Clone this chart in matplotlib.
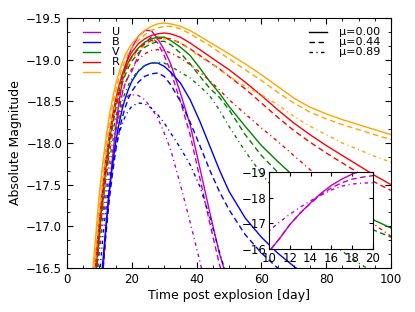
import matplotlib
matplotlib.use("Agg")
import matplotlib.pyplot as plt
from matplotlib.ticker import MultipleLocator, AutoMinorLocator
from matplotlib.lines import Line2D

# ── data ─────────────────────────────────────────────────────────────────────
t = [8, 9, 10, 11, 12, 13, 14, 15, 16, 17, 18, 19, 20, 22, 24, 26, 28, 30, 32,
     35, 38, 41, 44, 47, 50, 55, 60, 65, 70, 75, 80, 85, 90, 95, 100]

U_0 = [-14.9, -15.4, -15.9, -16.4, -16.95, -17.4, -17.8, -18.17, -18.48, -18.72,
       -18.92, -19.05, -19.14, -19.28, -19.35, -19.35, -19.25, -19.12, -18.95,
       -18.6, -18.22, -17.7, -17.18, -16.68, -16.3, -15.7, -15.2, -14.8, -14.5,
       -14.3, -14.1, -14.0, -13.9, -13.8, -13.7]
U_1 = [-14.9, -15.4, -15.9, -16.4, -16.95, -17.4, -17.78, -18.12, -18.38, -18.58,
       -18.72, -18.8, -18.86, -19.05, -19.2, -19.27, -19.2, -19.05, -18.86,
       -18.5, -18.1, -17.58, -17.05, -16.55, -16.15, -15.6, -15.1, -14.7, -14.4,
       -14.2, -14.0, -13.9, -13.8, -13.7, -13.6]
U_2 = [-15.9, -16.3, -16.7, -17.05, -17.35, -17.63, -17.88, -18.1, -18.3, -18.45,
       -18.53, -18.57, -18.58, -18.57, -18.52, -18.42, -18.3, -18.12, -17.92,
       -17.5, -17.05, -16.58, -16.1, -15.7, -15.4, -15.0, -14.7, -14.4, -14.2,
       -14.0, -13.9, -13.8, -13.7, -13.6, -13.5]

B_0 = [-15.2, -15.7, -16.15, -16.55, -17.0, -17.4, -17.72, -18.0, -18.22, -18.4,
       -18.54, -18.65, -18.74, -18.86, -18.93, -18.96, -18.96, -18.92, -18.85,
       -18.72, -18.52, -18.26, -17.97, -17.68, -17.42, -17.1, -16.87, -16.68,
       -16.52, -16.38, -16.25, -16.15, -16.05, -15.95, -15.85]
B_1 = [-15.1, -15.6, -16.05, -16.45, -16.9, -17.3, -17.62, -17.9, -18.12, -18.3,
       -18.43, -18.54, -18.62, -18.73, -18.8, -18.83, -18.84, -18.8, -18.7,
       -18.5, -18.25, -17.97, -17.68, -17.42, -17.2, -16.9, -16.68, -16.5,
       -16.35, -16.22, -16.1, -16.0, -15.9, -15.8, -15.7]
B_2 = [-15.4, -15.9, -16.4, -16.85, -17.2, -17.5, -17.75, -17.95, -18.1, -18.23,
       -18.32, -18.39, -18.44, -18.48, -18.47, -18.42, -18.34, -18.24, -18.12,
       -17.94, -17.74, -17.48, -17.12, -16.7, -16.3, -15.8, -15.4, -15.1, -14.9,
       -14.7, -14.6, -14.5, -14.4, -14.3, -14.2]

V_0 = [-16.1, -16.5, -16.95, -17.35, -17.7, -18.0, -18.25, -18.46, -18.63, -18.77,
       -18.88, -18.97, -19.04, -19.14, -19.21, -19.25, -19.27, -19.27, -19.23,
       -19.15, -19.05, -18.9, -18.74, -18.6, -18.44, -18.2, -17.97, -17.78,
       -17.6, -17.46, -17.35, -17.25, -17.17, -17.07, -16.98]
V_1 = [-16.0, -16.42, -16.88, -17.28, -17.63, -17.93, -18.18, -18.4, -18.57,
       -18.71, -18.82, -18.91, -18.98, -19.08, -19.15, -19.19, -19.22, -19.22,
       -19.18, -19.08, -18.95, -18.8, -18.66, -18.55, -18.4, -18.1, -17.85,
       -17.65, -17.47, -17.33, -17.22, -17.12, -17.03, -16.95, -16.87]
V_2 = [-15.9, -16.3, -16.75, -17.15, -17.48, -17.77, -18.0, -18.2, -18.37, -18.5,
       -18.61, -18.7, -18.77, -18.87, -18.93, -18.96, -18.97, -18.96, -18.92,
       -18.85, -18.78, -18.68, -18.57, -18.4, -18.2, -17.9, -17.63, -17.4,
       -17.18, -17.0, -16.84, -16.7, -16.56, -16.44, -16.33]

R_0 = [-16.2, -16.65, -17.08, -17.46, -17.8, -18.08, -18.32, -18.52, -18.68,
       -18.82, -18.93, -19.02, -19.09, -19.19, -19.25, -19.29, -19.31, -19.32,
       -19.31, -19.27, -19.2, -19.12, -19.04, -18.96, -18.88, -18.73, -18.57,
       -18.4, -18.24, -18.1, -17.97, -17.85, -17.73, -17.61, -17.5]
R_1 = [-16.1, -16.55, -16.98, -17.37, -17.72, -18.0, -18.25, -18.45, -18.61,
       -18.75, -18.87, -18.96, -19.03, -19.13, -19.19, -19.23, -19.25, -19.26,
       -19.25, -19.2, -19.13, -19.05, -18.97, -18.89, -18.8, -18.65, -18.48,
       -18.31, -18.15, -18.01, -17.88, -17.76, -17.64, -17.53, -17.43]
R_2 = [-16.0, -16.45, -16.88, -17.25, -17.58, -17.86, -18.1, -18.3, -18.47, -18.6,
       -18.72, -18.81, -18.89, -19.0, -19.07, -19.11, -19.12, -19.11, -19.08,
       -19.02, -18.94, -18.85, -18.75, -18.64, -18.52, -18.35, -18.18, -18.02,
       -17.85, -17.68, -17.5, -17.33, -17.17, -17.02, -16.88]

I_0 = [-16.5, -16.95, -17.4, -17.75, -18.05, -18.32, -18.52, -18.7, -18.84,
       -18.96, -19.06, -19.13, -19.19, -19.28, -19.35, -19.4, -19.43, -19.44,
       -19.43, -19.4, -19.35, -19.28, -19.21, -19.14, -19.07, -18.95, -18.82,
       -18.68, -18.54, -18.43, -18.35, -18.28, -18.22, -18.16, -18.1]
I_1 = [-16.35, -16.82, -17.28, -17.65, -17.96, -18.23, -18.44, -18.62, -18.77,
       -18.9, -19.0, -19.08, -19.14, -19.23, -19.3, -19.35, -19.38, -19.4, -19.4,
       -19.37, -19.31, -19.24, -19.17, -19.09, -19.01, -18.88, -18.75, -18.61,
       -18.48, -18.37, -18.29, -18.22, -18.16, -18.1, -18.04]
I_2 = [-16.2, -16.68, -17.13, -17.5, -17.82, -18.08, -18.3, -18.48, -18.63,
       -18.76, -18.86, -18.94, -19.01, -19.1, -19.17, -19.21, -19.24, -19.25,
       -19.24, -19.2, -19.12, -19.03, -18.97, -18.89, -18.8, -18.68, -18.58,
       -18.46, -18.32, -18.2, -18.1, -18.0, -17.92, -17.84, -17.77]

bands = ["U", "B", "V", "R", "I"]
mu_labels = ["μ=0.00", "μ=0.44", "μ=0.89"]

# ── style ────────────────────────────────────────────────────────────────────
colors = {"U": "#bf00bf", "B": "#0000ff", "V": "#008000",
          "R": "#ff0000", "I": "#ffa500"}
styles = [dict(ls="-"), dict(ls=(0, (4, 2.5))), dict(ls=(0, (2.5, 2.5, 0.8, 2.5)))]
curves = {"U": [U_0, U_1, U_2], "B": [B_0, B_1, B_2], "V": [V_0, V_1, V_2],
          "R": [R_0, R_1, R_2], "I": [I_0, I_1, I_2]}

plt.rcParams["font.family"] = "DejaVu Sans"
FS = 8.5
LFS = 8

fig = plt.figure(figsize=(4.15, 3.12), dpi=100)
ax = fig.add_axes([67 / 415, 1 - 268 / 312, 324 / 415, 250 / 312])

for b in bands:
    for k in range(3):
        ax.plot(t, curves[b][k], color=colors[b], lw=1.0, **styles[k])

ax.set_xlim(0, 100)
ax.set_ylim(-16.5, -19.5)
ax.xaxis.set_major_locator(MultipleLocator(20))
ax.xaxis.set_minor_locator(MultipleLocator(5))
ax.yaxis.set_major_locator(MultipleLocator(0.5))
ax.yaxis.set_minor_locator(AutoMinorLocator(3))
ax.tick_params(which="both", direction="in", top=True, right=True, labelsize=FS)
ax.tick_params(which="major", length=4)
ax.tick_params(which="minor", length=2)
ax.set_xlabel("Time post explosion [day]", fontsize=9, labelpad=2)
ax.set_ylabel("Absolute Magnitude", fontsize=9, labelpad=3)

band_handles = [Line2D([], [], color=colors[b], lw=1.0) for b in bands]
leg1 = ax.legend(band_handles, bands, loc="upper left", frameon=False,
                 fontsize=LFS, handlelength=1.5, handletextpad=1.1,
                 labelspacing=0.0, borderaxespad=0.45,
                 bbox_to_anchor=(0.02, 1.0))
ax.add_artist(leg1)
mu_handles = [Line2D([], [], color="k", lw=1.0, **s) for s in styles]
ax.legend(mu_handles, mu_labels, loc="upper right", frameon=False,
          fontsize=LFS, handlelength=1.6, handletextpad=1.08,
          labelspacing=0.0, borderaxespad=0.45, bbox_to_anchor=(0.995, 1.0))

# inset: U band early rise
axin = fig.add_axes([269 / 415, 1 - 249 / 312, 104 / 415, 77 / 312])
for k, U_k in enumerate([U_0, U_1, U_2]):
    axin.plot(t, U_k, color=colors["U"], lw=1.0, **styles[k])
axin.set_xlim(10, 20)
axin.set_ylim(-16, -19)
axin.xaxis.set_major_locator(MultipleLocator(2))
axin.yaxis.set_major_locator(MultipleLocator(1))
axin.tick_params(direction="in", top=True, right=True, labelsize=FS, length=3,
                 pad=2)

fig.savefig("out.png", dpi=100)
